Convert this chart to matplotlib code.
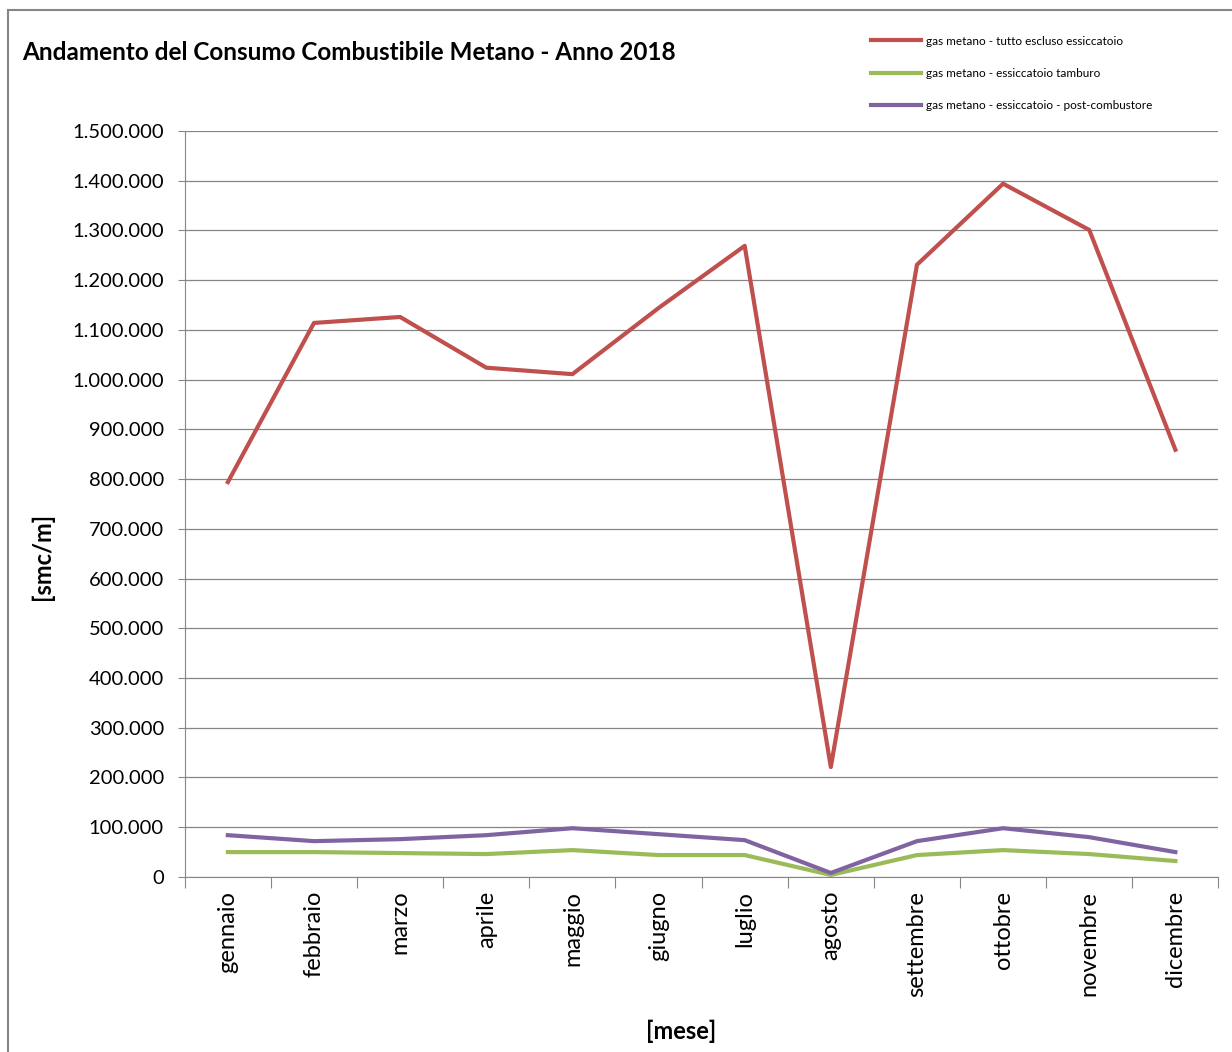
import matplotlib
matplotlib.use("Agg")
import matplotlib.pyplot as plt
from matplotlib.patches import Rectangle
from matplotlib.ticker import FuncFormatter, FixedLocator

plt.rcParams['font.family'] = ['Lato', 'DejaVu Sans']

mesi = ["gennaio", "febbraio", "marzo", "aprile", "maggio", "giugno",
        "luglio", "agosto", "settembre", "ottobre", "novembre", "dicembre"]

tutto_escluso = [794000, 1114000, 1126000, 1024000, 1011000, 1144000,
                 1269000, 221000, 1231000, 1394000, 1301000, 859000]
tamburo = [50000, 50000, 48000, 46000, 54000, 44000,
           44000, 4000, 44000, 54000, 46000, 32000]
post_combustore = [84000, 72000, 76000, 84000, 98000, 86000,
                   74000, 8000, 72000, 98000, 80000, 50000]

labels = ["gas metano - tutto escluso essiccatoio",
          "gas metano - essiccatoio tamburo",
          "gas metano - essiccatoio - post-combustore"]
colors = ["#C0504D", "#9BBB59", "#8064A2"]

fig = plt.figure(figsize=(12.32, 10.52), dpi=100)
ax = fig.add_axes([0.150, 0.1664, 0.839, 0.7091])

x = list(range(len(mesi)))
for serie, lab, col in zip([tutto_escluso, tamburo, post_combustore], labels, colors):
    ax.plot(x, serie, color=col, lw=3.0, label=lab, solid_joinstyle='round')

ax.set_xlim(-0.5, len(mesi) - 0.5)
ax.set_ylim(0, 1500000)
ax.set_yticks(range(0, 1500001, 100000))
ax.yaxis.set_major_formatter(FuncFormatter(lambda v, p: f"{int(v):,}".replace(",", ".")))
ax.tick_params(axis='y', labelsize=14.5, length=5, color='#868686', pad=10)
ax.grid(axis='y', color='#868686', lw=0.9)
ax.set_axisbelow(True)

ax.xaxis.set_major_locator(FixedLocator([i - 0.5 for i in range(len(mesi) + 1)]))
ax.xaxis.set_minor_locator(FixedLocator(x))
ax.set_xticklabels([])
ax.set_xticklabels(mesi, minor=True, rotation=90, fontsize=17)
ax.tick_params(axis='x', which='major', length=8, color='#868686')
ax.tick_params(axis='x', which='minor', length=0, pad=10)

for s in ['top', 'right']:
    ax.spines[s].set_visible(False)
for s in ['left', 'bottom']:
    ax.spines[s].set_color('#868686')

ax.set_ylabel("[smc/m]", fontsize=17, fontweight='bold')
ax.yaxis.set_label_coords(-0.127, 0.43)
ax.set_xlabel("[mese]", fontsize=17, fontweight='bold')
ax.xaxis.set_label_coords(0.48, -0.191)

fig.text(22 / 1232, 1 - 52 / 1052, "Andamento del Consumo Combustibile Metano - Anno 2018",
         fontsize=17.5, fontweight='bold', va='center', ha='left')

fig.legend(loc='upper left', bbox_to_anchor=(860 / 1232, 1 - 25 / 1052),
           frameon=False, fontsize=8.5, handlelength=4.3, labelspacing=1.8,
           handletextpad=0.4)

fig.add_artist(Rectangle((8 / 1232, -0.01), 1.0, 1 - 10 / 1052 + 0.01,
                         transform=fig.transFigure, fill=False,
                         edgecolor='#868686', lw=1.5))

fig.savefig("out.png", dpi=100)
